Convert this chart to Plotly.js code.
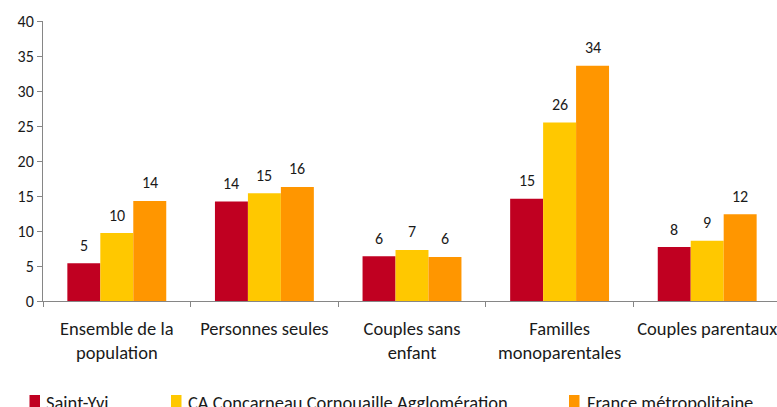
<!DOCTYPE html>
<html><head><meta charset="utf-8">
<script src="https://cdn.plot.ly/plotly-3.0.1.min.js"></script>
<style>html,body{margin:0;padding:0;overflow:hidden;background:#fff;width:777px;height:407px}</style>
</head><body><div id="chart"></div>
<script>
const categories = ["Ensemble de la<br>population","Personnes seules","Couples sans<br>enfant","Familles<br>monoparentales","Couples parentaux"];
const seriesNames = ["Saint-Yvi","CA Concarneau Cornouaille Agglomération","France métropolitaine"];
const saintYvi = [5.4, 14.2, 6.4, 14.6, 7.7];
const caConcarneau = [9.7, 15.4, 7.3, 25.5, 8.6];
const france = [14.3, 16.3, 6.3, 33.6, 12.4];
const yTicks = [0,5,10,15,20,25,30,35,40];
const colors = ["#C00021","#FFC800","#FF9600"];

const FONT = "Carlito, Lato, sans-serif";
const NUMSIZE = 16, TXTSIZE = 18.5;
const W = 781, H = 407, ML = 43, MT = 21, MB = 106, MR = 0;
const plotW = W - ML - MR, plotH = H - MT - MB;
const bargap = 0.33;
const series = [saintYvi, caConcarneau, france];

const traces = series.map((vals, i) => ({
  type: 'bar', x: categories, y: vals, name: seriesNames[i],
  marker: {color: colors[i]}, hoverinfo: 'none'
}));

const catW = plotW / categories.length;
const barW = catW * (1 - bargap) / series.length;
const annotations = [];
series.forEach((vals, i) => {
  vals.forEach((v, j) => {
    annotations.push({x: categories[j], y: v, xref: 'x', yref: 'y',
      text: String(Math.round(v)), showarrow: false, xanchor: 'center', yanchor: 'middle',
      xshift: (i - 1) * barW, yshift: 18, font: {family: FONT, size: NUMSIZE, color: '#1a1a1a'}});
  });
});
// legend (custom, pixel positions converted to paper coords)
const px = p => (p - ML) / plotW;
const py = p => (H - MB - p) / plotH;
const legendItems = [{sq: 29.5, tx: 44}, {sq: 171, tx: 185.5}, {sq: 569, tx: 584.5}];
const shapes = [];
legendItems.forEach((it, i) => {
  shapes.push({type: 'rect', xref: 'paper', yref: 'paper', x0: px(it.sq), x1: px(it.sq + 10.5),
    y0: py(395), y1: py(412), fillcolor: colors[i], line: {width: 0}});
  annotations.push({xref: 'paper', yref: 'paper', x: px(it.tx), y: py(402), xanchor: 'left', yanchor: 'middle',
    text: seriesNames[i], showarrow: false, font: {family: FONT, size: TXTSIZE, color: '#1a1a1a'}});
});

const layout = {
  width: W, height: H, margin: {l: ML, r: MR, t: MT, b: MB, pad: 0},
  paper_bgcolor: '#fff', plot_bgcolor: '#fff',
  barmode: 'group', bargap: bargap, bargroupgap: 0, showlegend: false,
  font: {family: FONT, size: NUMSIZE, color: '#1a1a1a'},
  xaxis: {type: 'category', tickson: 'boundaries', ticks: 'outside', ticklen: 5, tickcolor: '#868686',
    tickangle: 0, automargin: false,
    showline: true, linecolor: '#868686', linewidth: 1, showgrid: false, zeroline: false,
    tickfont: {family: FONT, size: TXTSIZE, color: '#1a1a1a'}, ticklabelstandoff: 11, fixedrange: true},
  yaxis: {range: [0, 40], tickvals: yTicks, ticktext: yTicks.map(String), ticks: 'outside', ticklen: 5,
    automargin: false,
    tickcolor: '#868686', showline: true, linecolor: '#868686', linewidth: 1, showgrid: false, zeroline: false,
    tickfont: {family: FONT, size: NUMSIZE, color: '#1a1a1a'}, ticklabelstandoff: 0, fixedrange: true},
  annotations: annotations, shapes: shapes
};
Plotly.newPlot('chart', traces, layout, {displayModeBar: false, staticPlot: true});
</script></body></html>
